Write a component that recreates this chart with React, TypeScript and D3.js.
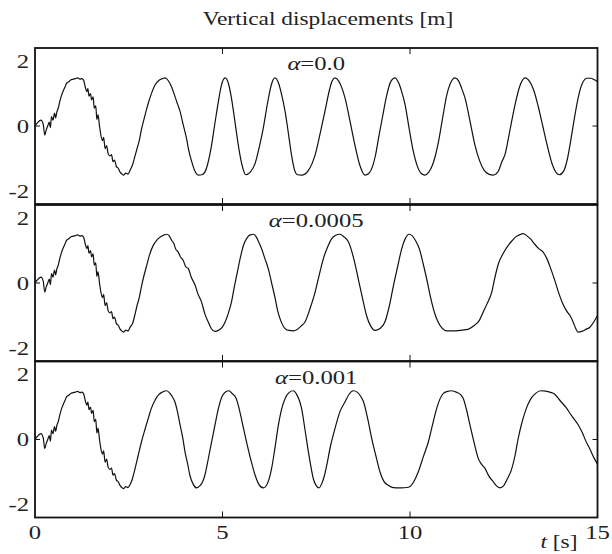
import React from "react";
import * as d3 from "d3";

const titleText = "Vertical displacements [m]";
const alphaValues = ["0.0", "0.0005", "0.001"];
const xTickValues = [0, 5, 10, 15];
const yTickValues = [-2, 0, 2];

// common start (identical in all three runs)
const commonStart: [number, number][] = [
  [0, 0], [0.08, 0.12], [0.16, 0.18], [0.22, 0.05], [0.26, -0.28], [0.3, -0.12], [0.34, 0.0], [0.38, 0.12],
  [0.41, -0.05], [0.44, 0.29], [0.48, 0.18], [0.52, 0.4], [0.55, 0.25], [0.58, 0.42], [0.62, 0.55], [0.66, 0.75],
  [0.71, 0.95], [0.76, 1.1], [0.8, 1.2], [0.84, 1.31], [0.9, 1.36], [0.96, 1.42], [1.02, 1.44], [1.08, 1.46],
  [1.14, 1.48], [1.2, 1.44], [1.25, 1.46], [1.3, 1.4], [1.34, 1.2], [1.38, 1.06], [1.41, 1.15], [1.44, 0.92],
  [1.48, 1.0], [1.51, 0.8], [1.55, 0.9], [1.58, 0.55], [1.62, 0.62], [1.65, 0.2], [1.68, 0.35], [1.72, 0.0],
  [1.76, -0.3], [1.8, -0.45], [1.83, -0.35], [1.87, -0.7], [1.91, -0.6], [1.95, -0.85], [2.0, -0.92], [2.04, -0.88],
  [2.08, -1.1], [2.12, -1.05], [2.17, -1.25], [2.22, -1.3], [2.27, -1.42], [2.32, -1.48], [2.36, -1.51], [2.42, -1.45],
  [2.48, -1.48],
];

const restAlpha0: [number, number][] = [
  [2.54, -1.35], [2.6, -1.2], [2.66, -0.95], [2.72, -0.7], [2.78, -0.45], [2.84, -0.1], [2.9, 0.18], [2.96, 0.45],
  [3.02, 0.7], [3.1, 0.98], [3.2, 1.26], [3.3, 1.4], [3.4, 1.46], [3.47, 1.48], [3.55, 1.4], [3.64, 1.21],
  [3.72, 0.95], [3.8, 0.68], [3.87, 0.44], [3.95, 0.05], [4.04, -0.38], [4.1, -0.75], [4.18, -1.1], [4.26, -1.38],
  [4.36, -1.51], [4.45, -1.5], [4.53, -1.42], [4.62, -1.1], [4.71, -0.58], [4.8, 0.1], [4.89, 0.75], [4.97, 1.25],
  [5.07, 1.48], [5.16, 1.3], [5.24, 0.85], [5.33, 0.15], [5.42, -0.58], [5.52, -1.2], [5.62, -1.5], [5.74, -1.42],
  [5.87, -1.15], [5.98, -0.65], [6.09, -0.05], [6.2, 0.7], [6.31, 1.3], [6.4, 1.48], [6.5, 1.3], [6.58, 0.95],
  [6.67, 0.44], [6.76, -0.25], [6.84, -0.89], [6.92, -1.35], [7.0, -1.5], [7.1, -1.51], [7.2, -1.48], [7.3, -1.35],
  [7.39, -1.15], [7.47, -0.89], [7.6, -0.25], [7.73, 0.44], [7.85, 1.1], [7.92, 1.38], [8.0, 1.48], [8.1, 1.38],
  [8.19, 1.15], [8.27, 0.85], [8.4, 0.15], [8.53, -0.58], [8.66, -1.2], [8.8, -1.51], [8.9, -1.46], [9.0, -1.25],
  [9.08, -0.9], [9.16, -0.38], [9.27, 0.3], [9.38, 0.95], [9.48, 1.35], [9.6, 1.48], [9.7, 1.32], [9.78, 1.05],
  [9.87, 0.65], [9.98, -0.1], [10.09, -0.79], [10.2, -1.25], [10.3, -1.46], [10.4, -1.51], [10.5, -1.42], [10.6, -1.2],
  [10.68, -0.9], [10.76, -0.48], [10.87, 0.25], [10.98, 0.95], [11.08, 1.32], [11.2, 1.48], [11.3, 1.38], [11.38, 1.15],
  [11.47, 0.85], [11.6, 0.15], [11.73, -0.58], [11.85, -1.05], [11.97, -1.35], [12.1, -1.48], [12.22, -1.51], [12.35, -1.4],
  [12.45, -1.1], [12.53, -0.89], [12.67, -0.1], [12.8, 0.65], [12.92, 1.2], [13.07, 1.48], [13.2, 1.35], [13.3, 1.1],
  [13.42, 0.6], [13.54, 0.0], [13.66, -0.6], [13.8, -1.2], [13.98, -1.5], [14.1, -1.38], [14.2, -1.0], [14.3, -0.35],
  [14.4, 0.35], [14.5, 0.95], [14.6, 1.32], [14.72, 1.47], [14.82, 1.47], [14.92, 1.42], [15, 1.36],
];

const restAlpha0005: [number, number][] = [
  [2.54, -1.35], [2.6, -1.25], [2.66, -1.0], [2.72, -0.7], [2.78, -0.45], [2.84, -0.1], [2.9, 0.2], [2.97, 0.5],
  [3.05, 0.85], [3.15, 1.15], [3.25, 1.32], [3.35, 1.42], [3.45, 1.48], [3.51, 1.5], [3.58, 1.45], [3.65, 1.3],
  [3.7, 1.22], [3.75, 1.05], [3.82, 0.95], [3.88, 0.8], [3.95, 0.7], [4.02, 0.5], [4.09, 0.44], [4.16, 0.2],
  [4.27, -0.07], [4.35, -0.35], [4.44, -0.58], [4.53, -0.95], [4.62, -1.2], [4.7, -1.4], [4.8, -1.49], [4.9, -1.45],
  [5.0, -1.35], [5.07, -1.2], [5.15, -0.95], [5.24, -0.58], [5.31, -0.15], [5.38, 0.24], [5.47, 0.75], [5.56, 1.16],
  [5.65, 1.38], [5.74, 1.48], [5.82, 1.5], [5.9, 1.42], [5.97, 1.25], [6.04, 1.06], [6.13, 0.75], [6.22, 0.44],
  [6.31, 0.0], [6.4, -0.45], [6.47, -0.85], [6.55, -1.15], [6.65, -1.38], [6.77, -1.46], [6.89, -1.47], [7.0, -1.42],
  [7.1, -1.32], [7.2, -1.2], [7.33, -0.8], [7.47, -0.28], [7.58, 0.25], [7.69, 0.75], [7.8, 1.1], [7.91, 1.36],
  [8.02, 1.47], [8.13, 1.5], [8.24, 1.42], [8.36, 1.26], [8.5, 0.75], [8.62, 0.13], [8.73, -0.45], [8.84, -1.0],
  [8.95, -1.32], [9.07, -1.46], [9.2, -1.4], [9.33, -1.2], [9.45, -0.7], [9.56, -0.07], [9.67, 0.5], [9.78, 1.06],
  [9.88, 1.38], [9.97, 1.5], [10.06, 1.45], [10.15, 1.3], [10.25, 1.05], [10.35, 0.6], [10.45, 0.1], [10.55, -0.45],
  [10.65, -0.9], [10.75, -1.2], [10.85, -1.38], [10.98, -1.47], [11.2, -1.47], [11.4, -1.45], [11.56, -1.42], [11.72, -1.3],
  [11.85, -1.15], [11.95, -0.9], [12.05, -0.65], [12.18, -0.28], [12.27, 0.2], [12.36, 0.6], [12.48, 0.9], [12.62, 1.16],
  [12.72, 1.3], [12.82, 1.42], [12.92, 1.48], [13.02, 1.52], [13.12, 1.45], [13.22, 1.35], [13.32, 1.2], [13.44, 1.05],
  [13.55, 0.95], [13.65, 0.75], [13.75, 0.45], [13.85, 0.12], [13.95, -0.25], [14.06, -0.6], [14.17, -0.85], [14.27, -1.01],
  [14.35, -1.2], [14.42, -1.4], [14.48, -1.51], [14.6, -1.48], [14.7, -1.42], [14.79, -1.37], [14.9, -1.2], [15, -1.0],
];

const restAlpha001: [number, number][] = [
  [2.54, -1.38], [2.6, -1.2], [2.67, -0.89], [2.75, -0.5], [2.84, -0.07], [2.93, 0.3], [3.02, 0.65], [3.1, 0.95],
  [3.2, 1.21], [3.3, 1.38], [3.4, 1.46], [3.51, 1.5], [3.6, 1.42], [3.67, 1.3], [3.73, 1.16], [3.8, 0.85],
  [3.87, 0.44], [3.94, 0.05], [4.0, -0.38], [4.07, -0.75], [4.13, -1.1], [4.22, -1.38], [4.31, -1.49], [4.4, -1.42],
  [4.47, -1.3], [4.53, -1.1], [4.62, -0.6], [4.71, -0.07], [4.8, 0.45], [4.89, 0.95], [4.98, 1.3], [5.08, 1.46],
  [5.17, 1.5], [5.27, 1.4], [5.35, 1.3], [5.42, 1.06], [5.53, 0.5], [5.64, -0.07], [5.75, -0.6], [5.87, -1.1],
  [5.97, -1.38], [6.09, -1.49], [6.2, -1.35], [6.31, -0.89], [6.4, -0.25], [6.49, 0.44], [6.58, 0.95], [6.67, 1.26],
  [6.78, 1.45], [6.89, 1.5], [6.98, 1.38], [7.05, 1.2], [7.11, 0.95], [7.2, 0.3], [7.29, -0.38], [7.36, -0.85],
  [7.42, -1.2], [7.5, -1.42], [7.57, -1.49], [7.65, -1.35], [7.72, -1.1], [7.78, -0.79], [7.88, -0.2], [8.0, 0.34],
  [8.13, 0.85], [8.27, 1.16], [8.38, 1.4], [8.49, 1.5], [8.6, 1.45], [8.7, 1.3], [8.76, 1.16], [8.87, 0.65],
  [8.98, 0.03], [9.1, -0.55], [9.2, -1.0], [9.3, -1.28], [9.42, -1.41], [9.55, -1.48], [9.75, -1.49], [9.96, -1.47],
  [10.1, -1.3], [10.22, -1.0], [10.35, -0.55], [10.49, -0.07], [10.6, 0.45], [10.71, 0.95], [10.8, 1.25], [10.89, 1.42],
  [11.0, 1.48], [11.11, 1.5], [11.25, 1.45], [11.35, 1.38], [11.42, 1.26], [11.51, 0.9], [11.6, 0.44], [11.7, -0.05],
  [11.82, -0.58], [11.9, -0.75], [12.0, -0.89], [12.1, -1.12], [12.22, -1.3], [12.3, -1.42], [12.4, -1.49], [12.5, -1.42],
  [12.6, -1.2], [12.7, -0.95], [12.8, -0.5], [12.88, 0.0], [12.98, 0.5], [13.1, 0.95], [13.22, 1.25], [13.35, 1.42],
  [13.48, 1.5], [13.62, 1.49], [13.75, 1.45], [13.85, 1.4], [14.0, 1.2], [14.17, 0.97], [14.3, 0.75], [14.48, 0.46],
  [14.6, 0.2], [14.69, -0.05], [14.8, -0.3], [14.9, -0.55], [15, -0.76],
];

const seriesList = [
  commonStart.concat(restAlpha0),
  commonStart.concat(restAlpha0005),
  commonStart.concat(restAlpha001),
];

const FONT = "Liberation Serif, Times New Roman, serif";
const SX = 1.3; // horizontal stretch of the original raster text

function StretchText(props: { x: number; y: number; anchor?: string; size?: number; children: React.ReactNode }) {
  const { x, y, anchor = "middle", size = 19, children } = props;
  return (
    <text
      transform={`translate(${x},${y}) scale(${SX},1)`}
      textAnchor={anchor}
      fontFamily={FONT}
      fontSize={size}
      fill="#222"
    >
      {children}
    </text>
  );
}

export default function App() {
  const W = 612;
  const H = 554;
  const x = d3.scaleLinear().domain([0, 15]).range([35, 597.5]);
  const panelTops = [48, 205, 361.5];
  const ph = 156;

  return (
    <svg width={W} height={H} style={{ position: "absolute", left: 0, top: 0, background: "#fff" }}>
      <StretchText x={328} y={25} size={18}>{titleText}</StretchText>
      {seriesList.map((data, i) => {
        const y0 = panelTops[i];
        const y = d3.scaleLinear().domain([-2.4, 2.4]).range([y0 + ph, y0]);
        const line = d3
          .line<[number, number]>()
          .x((d) => x(d[0]))
          .y((d) => y(d[1]))
          .curve(d3.curveMonotoneX);
        return (
          <g key={i}>
            <defs>
              <clipPath id={`clip${i}`}>
                <rect x={x(0)} y={y0} width={x(15) - x(0)} height={ph} />
              </clipPath>
            </defs>
            <path d={line(data) || ""} fill="none" stroke="#111" strokeWidth={1.2} clipPath={`url(#clip${i})`} />
            <rect x={x(0)} y={y0} width={x(15) - x(0)} height={ph} fill="none" stroke="#111" strokeWidth={1.8} />
            {xTickValues.filter((t) => t > 0 && t < 15).map((t) => (
              <g key={t}>
                <line x1={x(t)} x2={x(t)} y1={y0} y2={y0 + 6} stroke="#111" strokeWidth={1} />
                <line x1={x(t)} x2={x(t)} y1={y0 + ph} y2={y0 + ph - 6} stroke="#111" strokeWidth={1} />
              </g>
            ))}
            <line x1={x(15)} x2={x(15) - 5} y1={y(0)} y2={y(0)} stroke="#111" strokeWidth={1} />
            <line x1={x(0)} x2={x(0) + 5} y1={y(0)} y2={y(0)} stroke="#111" strokeWidth={1} />
            {yTickValues.map((v) => (
              <StretchText key={v} x={29} y={y(v) + 6.5} anchor="end">
                {v === -2 ? "-2" : String(v)}
              </StretchText>
            ))}
            <StretchText x={x(7.5)} y={y0 + 22}>
              <tspan fontStyle="italic">α</tspan>
              <tspan>{"=" + alphaValues[i]}</tspan>
            </StretchText>
          </g>
        );
      })}
      {xTickValues.map((t) => (
        <StretchText key={t} x={x(t)} y={539}>{String(t)}</StretchText>
      ))}
      <StretchText x={559} y={548} size={18}>
        <tspan fontStyle="italic">t</tspan>
        <tspan>{" [s]"}</tspan>
      </StretchText>
    </svg>
  );
}
